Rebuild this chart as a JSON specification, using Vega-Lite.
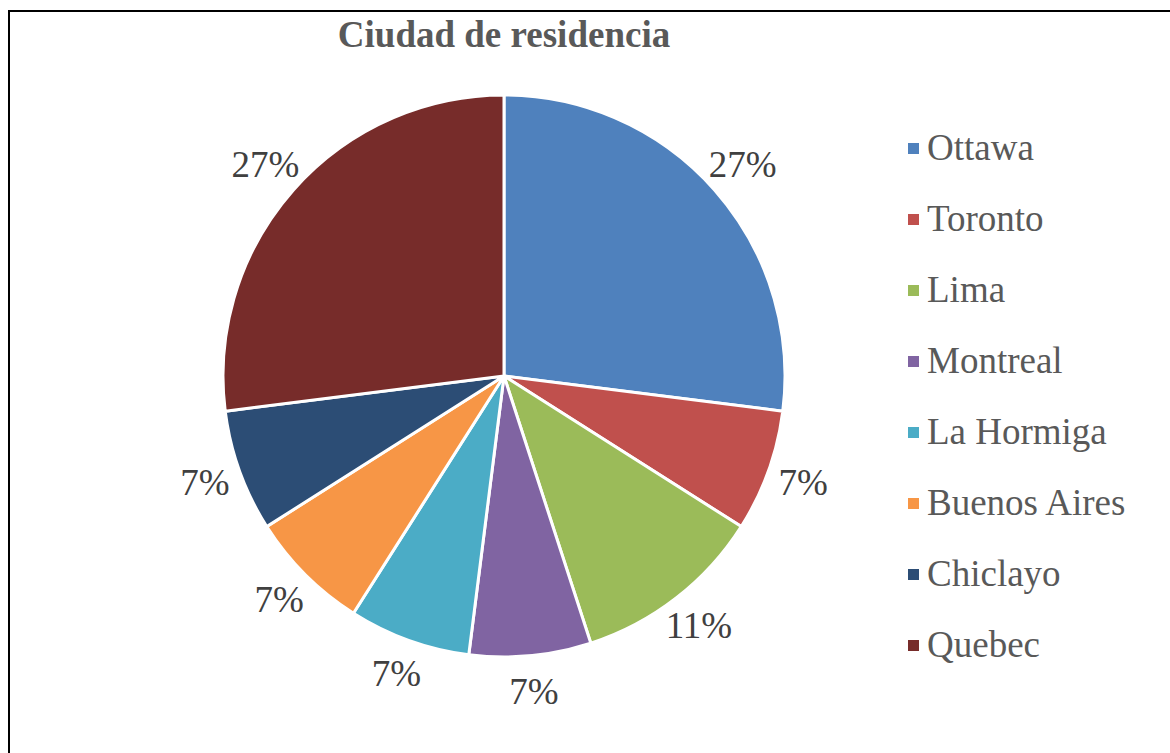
{
  "$schema": "https://vega.github.io/schema/vega-lite/v6.json",
  "autosize": {"type": "none"},
  "padding": {"left": 9, "top": 11, "right": 0, "bottom": 0},
  "width": 1170,
  "height": 760,
  "background": "white",
  "config": {
    "view": {"stroke": null},
    "font": "Liberation Serif, DejaVu Serif"
  },
  "title": {
    "text": "Ciudad de residencia",
    "anchor": "middle",
    "frame": "group",
    "orient": "top",
    "baseline": "alphabetic",
    "offset": -34,
    "dx": -90,
    "dy": 40,
    "font": "Liberation Serif, DejaVu Serif",
    "fontSize": 37,
    "fontWeight": "bold",
    "color": "#595959"
  },
  "layer": [
    {
      "data": {"values": [{"frame": 1}]},
      "mark": {"type": "rect", "fill": null, "stroke": "#000000", "strokeWidth": 2},
      "encoding": {}
    },
    {
      "data": {
        "values": [
          {"ciudad": "Ottawa", "pct": 27, "label": "27%", "order": 1},
          {"ciudad": "Toronto", "pct": 7, "label": "7%", "order": 2},
          {"ciudad": "Lima", "pct": 11, "label": "11%", "order": 3},
          {"ciudad": "Montreal", "pct": 7, "label": "7%", "order": 4},
          {"ciudad": "La Hormiga", "pct": 7, "label": "7%", "order": 5},
          {"ciudad": "Buenos Aires", "pct": 7, "label": "7%", "order": 6},
          {"ciudad": "Chiclayo", "pct": 7, "label": "7%", "order": 7},
          {"ciudad": "Quebec", "pct": 27, "label": "27%", "order": 8}
        ]
      },
      "encoding": {
        "theta": {"field": "pct", "type": "quantitative", "stack": true},
        "order": {"field": "order", "type": "quantitative"}
      },
      "layer": [
        {
          "mark": {"type": "arc", "outerRadius": 281, "stroke": "white", "strokeWidth": 3, "xOffset": -90, "yOffset": -15},
          "encoding": {
            "color": {
              "field": "ciudad",
              "type": "nominal",
              "sort": ["Ottawa", "Toronto", "Lima", "Montreal", "La Hormiga", "Buenos Aires", "Chiclayo", "Quebec"],
              "scale": {
                "domain": ["Ottawa", "Toronto", "Lima", "Montreal", "La Hormiga", "Buenos Aires", "Chiclayo", "Quebec"],
                "range": ["#4F81BD", "#C0504D", "#9BBB59", "#8064A2", "#4BACC6", "#F79646", "#2C4D75", "#772C2A"]
              },
              "legend": {
                "title": null,
                "orient": "none",
                "legendX": 886,
                "legendY": 119,
                "symbolType": "square",
                "symbolSize": 121,
                "symbolStrokeWidth": 0,
                "labelFont": "Liberation Serif, DejaVu Serif",
                "labelFontSize": 37,
                "labelColor": "#595959",
                "labelOffset": -5,
                "labelLimit": 300,
                "rowPadding": 33
              }
            }
          }
        },
        {
          "mark": {"type": "text", "radius": 318, "xOffset": -90, "yOffset": -15, "font": "Liberation Serif, DejaVu Serif", "fontSize": 37, "color": "#404040", "align": "center", "baseline": "middle"},
          "encoding": {
            "text": {"field": "label", "type": "nominal"}
          }
        }
      ]
    }
  ]
}
